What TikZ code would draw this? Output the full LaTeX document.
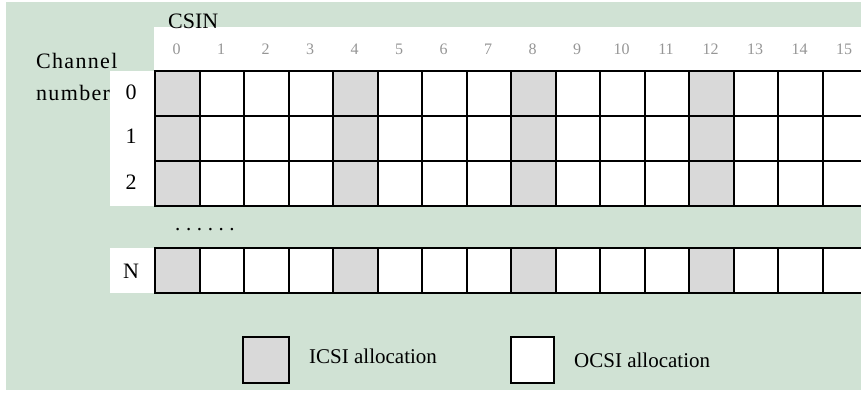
\documentclass[tikz,border=0pt]{standalone}
\usepackage{fontspec}
\setmainfont{Liberation Serif}
\usetikzlibrary{positioning}
\definecolor{BgGreen} {RGB}{208,226,212}
\definecolor{IcsiFill}{RGB}{217,217,217}
\definecolor{NumGray} {RGB}{150,150,150}
\tikzset{
  nd_cell/.style={
    rectangle, draw=black, line width=2pt,
    minimum width=44.5pt, minimum height=45pt, inner sep=0pt},
  nd_icsi/.style={nd_cell, fill=IcsiFill},
  nd_ocsi/.style={nd_cell, fill=white},
  txt_big/.style={font=\fontsize{21}{32}\selectfont, inner sep=0pt},
  txt_chn/.style={font=\fontsize{22}{32}\selectfont\addfontfeatures{LetterSpace=6}, inner sep=0pt},
  txt_row/.style={font=\fontsize{22}{24}\selectfont, inner sep=0pt},
  txt_hdr/.style={font=\fontsize{22}{24}\selectfont, inner sep=0pt},
  txt_num/.style={font=\fontsize{16}{18}\selectfont, text=NumGray, inner sep=0pt},
}

\begin{document}
\begin{tikzpicture}[x=1pt,y=-1pt]

\useasboundingbox (0,0) rectangle (861,392);
\fill[white]   (0,0) rectangle (861,392);
\fill[BgGreen] (6,2) rectangle (861,390);

%% white header and row label strips
\fill[white] (154,27) rectangle (861,71);
\fill[white] (110,71) rectangle (155,206);
\fill[white] (110,248) rectangle (155,293);

\node[txt_hdr, anchor=base west] at (168,28) (csin){CSIN};
\node[txt_chn, anchor=base west, align=left] at (36,100) (chn){Channel\\number};

%% column numbers
\foreach \c in {0,...,15}
  {\node[txt_num] at (176.5+44.5*\c,49) (n\c){\c};}

%% grid rows
\foreach \r/\y/\b in {0/93.5/99,1/138.5/143,2/183.5/189,N/270.5/278}{
  \node[txt_row, anchor=base] at (131,\b) (r\r){\r};
  \foreach \c in {0,...,15}{
    \pgfmathtruncatemacro\m{mod(\c,4)}
    \ifnum\m=0 \def\cst{nd_icsi}\else\def\cst{nd_ocsi}\fi
    \node[\cst] at (177.25+44.5*\c,\y) (c\r-\c){};
  }
}

\node[txt_big, anchor=base west] at (175,230) (dots)
  {.\kern5.6pt.\kern5.6pt.\kern5.6pt.\kern5.6pt.\kern5.6pt.};

%% legend
\node[nd_icsi, minimum width=46pt, minimum height=46pt] at (266,360) (lgI){};
\node[nd_ocsi, minimum width=43pt, minimum height=46pt] at (532.5,360) (lgO){};
\node[txt_big, right=19pt of lgI, yshift=4pt] (lgIt){ICSI allocation};
\node[txt_big, right=19pt of lgO, yshift=0pt] (lgOt){OCSI allocation};

\end{tikzpicture}
\end{document}
